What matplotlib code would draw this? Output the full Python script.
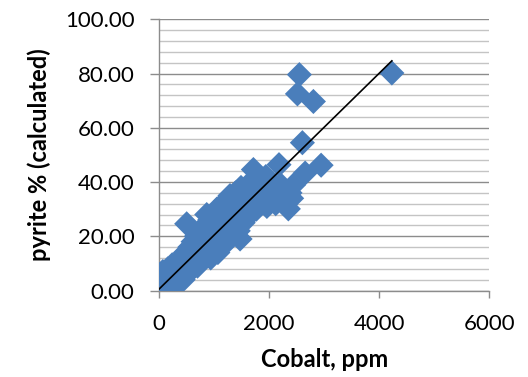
"""
Pyrite % (calculated) against cobalt, Excel-style scatter with linear trendline.
"""

import numpy as np
import matplotlib
matplotlib.use("Agg")
import matplotlib.pyplot as plt
from matplotlib.ticker import MultipleLocator, FormatStrFormatter

# data
cobalt_ppm = [
    0, 5, 10, 15, 25, 30, 40, 50, 60, 70, 80, 90, 100,
    120, 140, 160, 180, 200, 220, 240, 260, 280, 300, 320, 340, 360, 380,
    400, 420, 440, 460, 480, 503, 510, 530, 560, 580, 600, 620, 640, 660,
    680, 700, 720, 740, 760,
    780, 800, 820, 840, 860, 867, 880, 900, 920, 940, 960, 980, 1000, 1000,
    1030, 1050, 1070, 1080, 1110, 1130, 1150, 1170, 1190, 1210, 1230, 1250,
    1270, 1290, 1300,
    1320, 1350, 1370, 1390, 1410, 1440, 1460, 1473, 1490, 1510, 1530, 1560,
    1580, 1600,
    1620, 1650, 1680, 1700, 1715, 1740, 1770, 1790, 1820, 1850, 1880, 1910,
    1940, 1960, 1990,
    2030, 2060, 2090, 2120, 2150, 2180, 2210, 2240, 2270, 2300, 2350, 2380,
    2410, 2440,
    2515, 2550, 2805, 2605, 2655, 2945, 4230,
]
pyrite_pct = [
    0.3, 2, 4.5, 1, 6, 3, 0.5, 5, 2, 7, 3.5, 1, 4,
    6.5, 2, 8, 4, 1.5, 7, 9.5, 3, 6, 2.3, 10, 5, 8, 3.5,
    12, 7, 4, 10, 14, 24.6, 6, 11, 16, 8, 13, 18, 10, 15,
    20, 9, 13, 17, 22,
    11, 15, 19, 24, 13, 28, 17, 21, 26, 12, 19, 24, 16, 28,
    21, 30, 14, 25, 19, 31, 23, 27, 17, 33, 25, 21,
    30, 35, 26,
    20, 32, 24, 36, 28, 22, 33, 19, 38, 29, 25, 35,
    31, 27,
    39, 33, 29, 37, 44.6, 34, 30, 41, 37, 33, 39, 35,
    42, 31, 37,
    40, 34, 38, 32, 36, 46.4, 39, 34, 37, 32, 30.1, 36,
    34, 38.8,
    72.5, 79.6, 69.7, 54.5, 43.3, 46.2, 80.2,
]

# linear trendline shown in the reference
trend_slope = 0.0199
trend_intercept = 0.5
trend_x = [0, 4230]

x_ticks = [0, 2000, 4000, 6000]

BLUE = "#4A7EBB"
GRID_MAJOR = "#8C8C8C"
GRID_MINOR = "#C4C4C4"
FONT = "Lato"

fig = plt.figure(figsize=(5.28, 3.77), dpi=100)
ax = fig.add_axes([0.3011, 0.2294, 0.6256, 0.7194])

ax.scatter(cobalt_ppm, pyrite_pct, marker="D", s=12.8 ** 2, color=BLUE,
           edgecolors="none", zorder=3)

tx = np.array(trend_x, dtype=float)
ax.plot(tx, trend_intercept + trend_slope * tx, color="black", lw=1.2, zorder=4)

ax.set_xlim(0, 6000)
ax.set_ylim(0, 100)
ax.set_xticks(x_ticks)
ax.yaxis.set_major_locator(MultipleLocator(20))
ax.yaxis.set_minor_locator(MultipleLocator(4))
ax.yaxis.set_major_formatter(FormatStrFormatter("%.2f"))

ax.grid(which="major", axis="y", color=GRID_MAJOR, lw=1.0, zorder=0)
ax.grid(which="minor", axis="y", color=GRID_MINOR, lw=1.0, zorder=0)
ax.set_axisbelow(True)

for side in ["top", "right"]:
    ax.spines[side].set_visible(False)
for side in ["left", "bottom"]:
    ax.spines[side].set_color(GRID_MAJOR)
    ax.spines[side].set_linewidth(1.0)

ax.tick_params(axis="y", which="major", direction="out", length=6.5, width=1.0,
               color=GRID_MAJOR, pad=11, labelsize=16)
ax.tick_params(axis="y", which="minor", length=0)
ax.tick_params(axis="x", direction="out", length=5, width=1.0,
               color=GRID_MAJOR, pad=12, labelsize=16)
for lab in ax.get_xticklabels() + ax.get_yticklabels():
    lab.set_fontfamily(FONT)

ax.set_xlabel("Cobalt, ppm", fontsize=17, fontweight="bold", family=FONT, labelpad=10)
ax.set_ylabel("pyrite % (calculated)", fontsize=17, fontweight="bold", family=FONT,
              labelpad=10)

fig.savefig("out.png", dpi=100, facecolor="white")
